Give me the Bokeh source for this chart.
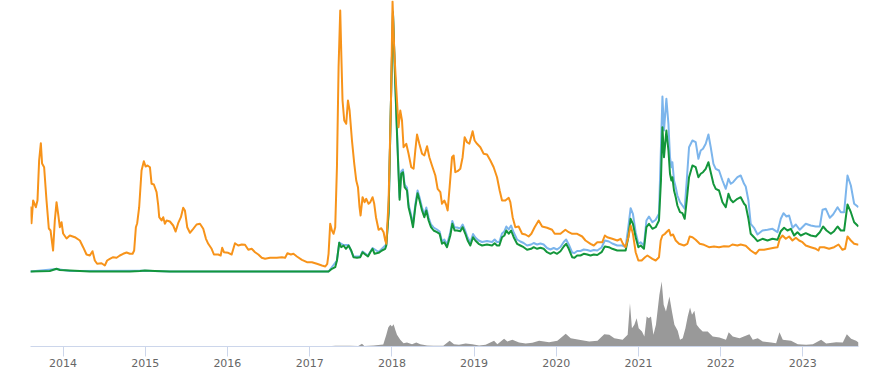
from datetime import datetime
from bokeh.plotting import figure
from bokeh.models import Range1d, FixedTicker, DatetimeTickFormatter, ColumnDataSource
from bokeh.embed import file_html
from bokeh.resources import INLINE

# ---- data (time as decimal years, values in arbitrary index units) ----
orange_t = [2013.603, 2013.615, 2013.635, 2013.668, 2013.688, 2013.708, 2013.729, 2013.744, 2013.769, 2013.798,
            2013.826, 2013.847, 2013.878, 2013.899, 2013.920, 2013.939, 2013.960, 2013.981, 2014.000, 2014.042,
            2014.082, 2014.143, 2014.204, 2014.244, 2014.285, 2014.325, 2014.358, 2014.386, 2014.414, 2014.468,
            2014.508, 2014.536, 2014.569, 2014.609, 2014.651, 2014.691, 2014.731, 2014.773, 2014.813, 2014.846,
            2014.865, 2014.886, 2014.902, 2014.926, 2014.955, 2014.983, 2015.004, 2015.028, 2015.057, 2015.077,
            2015.105, 2015.138, 2015.158, 2015.170, 2015.199, 2015.219, 2015.239, 2015.260, 2015.300, 2015.340,
            2015.370, 2015.401, 2015.434, 2015.462, 2015.483, 2015.511, 2015.544, 2015.584, 2015.625, 2015.666,
            2015.706, 2015.739, 2015.767, 2015.808, 2015.836, 2015.889, 2015.918, 2015.937, 2015.958, 2016.010,
            2016.052, 2016.092, 2016.132, 2016.174, 2016.214, 2016.254, 2016.295, 2016.336, 2016.376, 2016.417,
            2016.458, 2016.518, 2016.600, 2016.661, 2016.701, 2016.729, 2016.771, 2016.802, 2016.844, 2016.905,
            2016.966, 2017.026, 2017.087, 2017.148, 2017.189, 2017.213, 2017.229, 2017.249, 2017.270, 2017.290,
            2017.310, 2017.331, 2017.351, 2017.371, 2017.383, 2017.399, 2017.420, 2017.444, 2017.465, 2017.485,
            2017.514, 2017.542, 2017.566, 2017.587, 2017.606, 2017.619, 2017.643, 2017.667, 2017.688, 2017.716,
            2017.737, 2017.765, 2017.785, 2017.806, 2017.838, 2017.871, 2017.899, 2017.919, 2017.932, 2017.960,
            2017.989, 2018.008, 2018.029, 2018.050, 2018.081, 2018.102, 2018.123, 2018.142, 2018.175, 2018.203,
            2018.236, 2018.264, 2018.285, 2018.306, 2018.334, 2018.367, 2018.395, 2018.428, 2018.456, 2018.488,
            2018.529, 2018.557, 2018.590, 2018.610, 2018.638, 2018.659, 2018.679, 2018.703, 2018.732, 2018.752,
            2018.772, 2018.800, 2018.833, 2018.861, 2018.886, 2018.915, 2018.943, 2018.964, 2018.983, 2019.007,
            2019.037, 2019.077, 2019.117, 2019.158, 2019.199, 2019.239, 2019.280, 2019.312, 2019.341, 2019.381,
            2019.422, 2019.442, 2019.470, 2019.503, 2019.543, 2019.585, 2019.625, 2019.665, 2019.698, 2019.738,
            2019.787, 2019.829, 2019.889, 2019.950, 2019.982, 2020.052, 2020.112, 2020.153, 2020.194, 2020.255,
            2020.316, 2020.356, 2020.417, 2020.457, 2020.499, 2020.560, 2020.591, 2020.620, 2020.681, 2020.742,
            2020.783, 2020.811, 2020.843, 2020.876, 2020.904, 2020.932, 2020.965, 2020.998, 2021.038, 2021.079,
            2021.108, 2021.169, 2021.209, 2021.249, 2021.270, 2021.291, 2021.322, 2021.351, 2021.371, 2021.392,
            2021.420, 2021.453, 2021.493, 2021.554, 2021.595, 2021.623, 2021.656, 2021.696, 2021.745, 2021.797,
            2021.858, 2021.919, 2021.980, 2022.041, 2022.102, 2022.143, 2022.204, 2022.244, 2022.305, 2022.366,
            2022.427, 2022.467, 2022.528, 2022.589, 2022.650, 2022.692, 2022.720, 2022.753, 2022.793, 2022.833,
            2022.874, 2022.915, 2022.955, 2022.996, 2023.036, 2023.097, 2023.158, 2023.191, 2023.207, 2023.259,
            2023.320, 2023.381, 2023.435, 2023.483, 2023.515, 2023.544, 2023.585, 2023.625, 2023.678]
orange_v = [65, 48.3, 71, 64.3, 71, 111, 128.3, 108, 104.3, 71,
            43, 41, 21, 51, 69.3, 58, 44.3, 49.3, 38, 33,
            36, 34.3, 31, 24.3, 17, 16, 20.3, 11, 7.7, 8.3,
            6, 11, 12.7, 14.3, 13.7, 16, 17.7, 19, 17.7, 17.7,
            21, 44.3, 48.3, 64.3, 101, 110.3, 105, 106, 104.3, 87.7,
            87, 79.3, 66, 54.3, 51, 54.3, 47.7, 51, 50, 46,
            40, 48.3, 54.3, 63.7, 61, 44.3, 38.7, 42.7, 47, 47.7,
            42.7, 32.7, 27.7, 22.7, 17, 17, 16, 23.7, 19.3, 18.7,
            17, 28.3, 26, 27, 26.7, 21.7, 22.7, 19.3, 17, 13.7,
            12.7, 13.7, 13.7, 14.3, 13.7, 18.3, 17, 17.7, 15, 11.7,
            9.3, 9.3, 7.7, 6, 5, 7.7, 17.7, 47.7, 41, 37.7,
            44.3, 104.3, 204.3, 261, 221, 171, 151, 147.7, 171, 161,
            131, 107.7, 91, 84.3, 64.3, 56, 74.3, 69.3, 72.7, 67.7,
            69.3, 74.3, 67.7, 54.3, 41.7, 43.3, 39.3, 31, 27.7, 71,
            171, 270, 221, 187.7, 144.3, 161, 151, 124.3, 127.7, 117.7,
            104.3, 102.7, 121, 137, 127.7, 117.7, 116, 125.3, 114.3, 106,
            96, 82.7, 79.3, 67.7, 71, 67, 61, 84.3, 114.3, 116,
            99.3, 100.3, 102.7, 114.3, 134.3, 129.3, 127.7, 134.3, 140.3, 131,
            127.7, 124.3, 117.7, 117, 111, 104.3, 94.3, 81, 71, 71,
            73.7, 69.3, 54.3, 44.3, 45, 37.7, 37, 35, 37.7, 44.3,
            51, 45, 43.7, 41.7, 37.7, 37.7, 41.7, 39.3, 37.7, 37.7,
            35, 31, 27.7, 26, 29.3, 29.3, 36, 34.3, 32.7, 31,
            32.7, 27.7, 24.3, 34.3, 46, 37.7, 19.3, 11, 11, 14.3,
            16, 12.7, 11, 14.3, 31, 36, 37.7, 40.3, 41.7, 36,
            37, 31, 27.7, 26, 27.7, 35, 34.3, 31.7, 27.7, 26.7,
            24.3, 25, 24.3, 25.3, 25, 27, 26, 27, 25.7, 21,
            17.7, 21.7, 21.7, 22.7, 23.7, 24.3, 32.7, 36, 32.7, 35,
            31, 33.7, 31, 29.3, 26, 24.3, 22.7, 21, 24.3, 24.3,
            22.7, 24.3, 27, 21.7, 22.7, 35, 31, 27.7, 26.7]

green_t = [2013.601, 2013.838, 2013.920, 2013.960, 2014.082, 2014.325, 2014.813, 2014.935, 2014.996, 2015.117,
           2015.300, 2017.229, 2017.270, 2017.310, 2017.331, 2017.359, 2017.383, 2017.411, 2017.441, 2017.472,
           2017.505, 2017.533, 2017.575, 2017.615, 2017.643, 2017.676, 2017.709, 2017.737, 2017.765, 2017.789,
           2017.838, 2017.879, 2017.919, 2017.932, 2017.960, 2017.989, 2018.013, 2018.041, 2018.062, 2018.081,
           2018.094, 2018.114, 2018.135, 2018.155, 2018.184, 2018.203, 2018.233, 2018.257, 2018.285, 2018.313,
           2018.337, 2018.367, 2018.395, 2018.419, 2018.447, 2018.476, 2018.508, 2018.549, 2018.581, 2018.610,
           2018.638, 2018.671, 2018.711, 2018.736, 2018.764, 2018.793, 2018.833, 2018.861, 2018.894, 2018.922,
           2018.955, 2018.988, 2019.016, 2019.056, 2019.098, 2019.158, 2019.219, 2019.251, 2019.280, 2019.308,
           2019.341, 2019.369, 2019.394, 2019.422, 2019.451, 2019.483, 2019.524, 2019.564, 2019.604, 2019.646,
           2019.695, 2019.726, 2019.768, 2019.808, 2019.848, 2019.889, 2019.930, 2019.970, 2020.011, 2020.052,
           2020.092, 2020.121, 2020.153, 2020.194, 2020.222, 2020.255, 2020.295, 2020.335, 2020.377, 2020.417,
           2020.457, 2020.499, 2020.551, 2020.591, 2020.640, 2020.681, 2020.742, 2020.803, 2020.843, 2020.876,
           2020.904, 2020.932, 2020.965, 2020.998, 2021.026, 2021.066, 2021.096, 2021.127, 2021.169, 2021.209,
           2021.249, 2021.273, 2021.291, 2021.310, 2021.339, 2021.364, 2021.383, 2021.400, 2021.412, 2021.432,
           2021.453, 2021.473, 2021.505, 2021.534, 2021.562, 2021.587, 2021.615, 2021.656, 2021.696, 2021.729,
           2021.757, 2021.785, 2021.818, 2021.851, 2021.879, 2021.912, 2021.940, 2021.980, 2022.022, 2022.062,
           2022.095, 2022.123, 2022.151, 2022.204, 2022.244, 2022.285, 2022.305, 2022.338, 2022.366, 2022.406,
           2022.448, 2022.509, 2022.570, 2022.631, 2022.692, 2022.732, 2022.772, 2022.813, 2022.854, 2022.894,
           2022.935, 2022.975, 2023.036, 2023.097, 2023.158, 2023.207, 2023.247, 2023.289, 2023.341, 2023.381,
           2023.423, 2023.463, 2023.503, 2023.544, 2023.585, 2023.625, 2023.678]
green_v = [0, 0.5, 2.7, 1.5, 1, 0, 0, 0.5, 1, 0.5,
           0, 0, 2.7, 4.3, 11, 28.7, 24.3, 26, 22.7, 26,
           21, 14.3, 13.7, 14.3, 19.3, 17, 15, 19.3, 22.7, 17.7,
           18.7, 21, 22.7, 26, 58, 171, 259, 188, 138, 97.7,
           71.7, 97.7, 99.3, 84.3, 81, 64.3, 54.3, 44.3, 64.3, 78.3,
           71, 61, 54.3, 61, 51, 44.3, 41, 39.3, 37.7, 27.7,
           29.3, 24.3, 36, 47.7, 41, 41, 40.3, 44.3, 37.7, 31,
           26, 34.3, 31, 27.7, 26, 27, 26, 28.3, 26, 26,
           34.3, 36, 41, 37.7, 41, 34.3, 27.7, 26, 24.3, 21.7,
           22.7, 24.3, 22.7, 23.7, 22.7, 19.3, 17.7, 19.3, 17.7, 20.3,
           25, 27.7, 22.7, 14.3, 13.7, 16, 16, 17.7, 17, 16,
           17, 16.5, 19.3, 25, 24.3, 22.7, 21, 21, 21, 34.3,
           52.7, 47.7, 34.3, 24.3, 26, 22.7, 44.3, 47.7, 42.7, 44.3,
           51, 91, 144.3, 114.3, 141, 121, 97.7, 91, 94.3, 81,
           74.3, 66, 59.3, 58.3, 52.7, 71, 94.3, 106, 104.3, 94.3,
           97.7, 99.3, 102.7, 109.3, 99.3, 87.7, 82.7, 81, 69.3, 64.3,
           77.7, 71.7, 69.3, 72.7, 74.3, 67.7, 66, 52.7, 37.7, 34.3,
           30.3, 32.7, 31, 32.7, 31.7, 40.3, 43.7, 41, 42.7, 36,
           39.3, 36, 38.3, 36, 35, 39.3, 45, 41, 37.7, 40.3,
           45, 41, 41, 67, 59.3, 49.3, 45]

blue_t = [2013.601, 2013.920, 2014.082, 2014.996, 2015.300, 2017.229, 2017.331, 2017.359, 2017.411, 2017.472,
          2017.533, 2017.615, 2017.643, 2017.709, 2017.765, 2017.838, 2017.932, 2017.960, 2017.989, 2018.013,
          2018.041, 2018.062, 2018.081, 2018.094, 2018.114, 2018.135, 2018.155, 2018.184, 2018.203, 2018.233,
          2018.257, 2018.285, 2018.313, 2018.337, 2018.367, 2018.395, 2018.419, 2018.447, 2018.476, 2018.508,
          2018.549, 2018.581, 2018.610, 2018.638, 2018.671, 2018.711, 2018.736, 2018.764, 2018.793, 2018.833,
          2018.861, 2018.894, 2018.922, 2018.955, 2018.988, 2019.016, 2019.056, 2019.098, 2019.158, 2019.219,
          2019.251, 2019.280, 2019.308, 2019.341, 2019.369, 2019.394, 2019.422, 2019.451, 2019.483, 2019.524,
          2019.564, 2019.604, 2019.646, 2019.695, 2019.726, 2019.768, 2019.808, 2019.848, 2019.889, 2019.930,
          2019.970, 2020.011, 2020.052, 2020.092, 2020.121, 2020.153, 2020.194, 2020.222, 2020.255, 2020.295,
          2020.335, 2020.377, 2020.417, 2020.457, 2020.499, 2020.551, 2020.591, 2020.640, 2020.681, 2020.742,
          2020.803, 2020.843, 2020.876, 2020.904, 2020.932, 2020.965, 2020.998, 2021.026, 2021.066, 2021.096,
          2021.127, 2021.169, 2021.209, 2021.249, 2021.273, 2021.291, 2021.310, 2021.339, 2021.364, 2021.383,
          2021.400, 2021.412, 2021.432, 2021.453, 2021.473, 2021.505, 2021.534, 2021.562, 2021.587, 2021.615,
          2021.656, 2021.696, 2021.729, 2021.757, 2021.785, 2021.818, 2021.851, 2021.879, 2021.912, 2021.940,
          2021.980, 2022.022, 2022.062, 2022.095, 2022.123, 2022.151, 2022.204, 2022.244, 2022.285, 2022.305,
          2022.338, 2022.366, 2022.406, 2022.448, 2022.509, 2022.570, 2022.631, 2022.692, 2022.732, 2022.765,
          2022.801, 2022.833, 2022.874, 2022.915, 2022.963, 2023.036, 2023.097, 2023.158, 2023.207, 2023.240,
          2023.280, 2023.329, 2023.369, 2023.423, 2023.463, 2023.503, 2023.544, 2023.585, 2023.625, 2023.678]
blue_v = [0, 2.5, 0.5, 0.8, 0, 0, 11, 29, 26.5, 26.5,
          15, 15, 20, 16, 23.5, 19.5, 27, 59, 172, 260,
          190, 141, 100, 74, 100, 102, 87, 84, 67, 57,
          47, 67, 81, 74, 64, 57, 64, 54, 47, 44,
          42, 40, 30, 32, 27, 39, 50.5, 44, 44, 43,
          47, 40.5, 34, 29, 37.5, 34, 31, 29.5, 30.5, 29.5,
          32, 29.5, 29.5, 38, 40, 45, 42, 46, 39, 32,
          30, 28.5, 26, 27, 28.5, 27, 28, 27, 23.5, 22,
          23.5, 22, 24.5, 29.5, 32, 27, 19, 18.5, 20.5, 20.5,
          22, 21.5, 20.5, 21.5, 21, 24, 31, 30, 28, 26,
          26, 24.3, 44.3, 63.3, 57.7, 39.3, 27.7, 29.3, 26, 51,
          55, 49.3, 51.7, 57.7, 124.3, 175, 141, 172.7, 147.7, 114.3,
          104.3, 109.3, 91, 84.3, 76, 69.3, 66, 62.7, 91, 124.3,
          131, 129.3, 112.7, 121, 122.7, 127.7, 137, 124.3, 107.7, 102.7,
          101, 91, 82.7, 92.7, 87.7, 89.3, 94.3, 96, 87.7, 85,
          71, 47.7, 43.7, 37, 41, 41.7, 42.7, 39.3, 52.7, 58.3,
          55, 56, 43.7, 47, 41.7, 47.7, 46, 45, 45, 61.7,
          62.7, 53.7, 57, 64.3, 59.3, 59.3, 96, 86, 67.7, 64.3]

vol_t = [2013.601, 2017.189, 2017.310, 2017.493, 2017.591, 2017.636, 2017.664, 2017.777, 2017.895, 2017.932,
         2017.956, 2017.980, 2018.001, 2018.021, 2018.041, 2018.062, 2018.102, 2018.142, 2018.184, 2018.245,
         2018.297, 2018.346, 2018.428, 2018.508, 2018.626, 2018.703, 2018.756, 2018.817, 2018.898, 2018.979,
         2019.061, 2019.141, 2019.244, 2019.284, 2019.366, 2019.406, 2019.467, 2019.548, 2019.629, 2019.710,
         2019.792, 2019.914, 2020.015, 2020.116, 2020.177, 2020.279, 2020.401, 2020.502, 2020.584, 2020.645,
         2020.706, 2020.807, 2020.868, 2020.896, 2020.920, 2020.949, 2020.977, 2021.002, 2021.042, 2021.071,
         2021.099, 2021.124, 2021.152, 2021.181, 2021.212, 2021.254, 2021.282, 2021.306, 2021.334, 2021.376,
         2021.407, 2021.437, 2021.477, 2021.505, 2021.538, 2021.571, 2021.599, 2021.627, 2021.651, 2021.680,
         2021.708, 2021.741, 2021.781, 2021.842, 2021.903, 2021.985, 2022.065, 2022.098, 2022.147, 2022.229,
         2022.350, 2022.391, 2022.452, 2022.512, 2022.614, 2022.675, 2022.716, 2022.756, 2022.857, 2022.939,
         2023.040, 2023.122, 2023.223, 2023.284, 2023.406, 2023.487, 2023.536, 2023.588, 2023.649, 2023.678]
vol_v = [0, 0, 0.7, 0.7, 0.5, 2.7, 0.5, 1, 2, 11.7,
         19, 21.7, 20, 22.3, 16.7, 11.7, 6.7, 3.3, 4, 2.3,
         4, 2.3, 1, 0.7, 0.7, 5.7, 2.3, 1.7, 3, 2.3,
         1, 1.7, 5.7, 2.3, 7.7, 5, 6.7, 4, 3, 3.7,
         5.7, 4.3, 5.7, 12.7, 8.3, 6.7, 5, 5.7, 12.3, 11.7,
         8.3, 6.7, 11.7, 43.3, 18.3, 21.7, 28.3, 18.3, 15, 10,
         30, 28.3, 30, 11.7, 21.7, 51.7, 65, 41.7, 35, 50,
         35, 21.7, 15.7, 6.7, 8.3, 18.3, 30, 39, 31.7, 35.7,
         21.7, 18.3, 15, 15, 10, 9, 6.7, 14.3, 10, 8.3,
         12.3, 6.7, 8.3, 5, 4, 3.3, 14.3, 6.7, 5.7, 2.3,
         1.7, 2.3, 6.7, 3, 4.3, 4, 12.3, 7.7, 5.7, 4]

year_ticks = [2014, 2015, 2016, 2017, 2018, 2019, 2020, 2021, 2022, 2023]


def to_dt(y):
    yr = int(y)
    a = datetime(yr, 1, 1)
    b = datetime(yr + 1, 1, 1)
    return a + (b - a) * (y - yr)


def ms(d):
    return (d - datetime(1970, 1, 1)).total_seconds() * 1000.0


p = figure(width=884, height=376, x_axis_type="datetime", output_backend="svg",
           toolbar_location=None, y_axis_location=None,
           x_range=Range1d(to_dt(orange_t[0]), to_dt(orange_t[-1])),
           y_range=Range1d(-75, 271),
           min_border_left=30, min_border_right=26, min_border_top=0, min_border_bottom=30)
p.extra_y_ranges = {"vol": Range1d(0, 346)}
p.xgrid.visible = False
p.ygrid.visible = False
p.outline_line_color = None
p.background_fill_color = "white"
p.border_fill_color = "white"

vsrc = ColumnDataSource(dict(x=[to_dt(t) for t in vol_t], y=vol_v))
p.varea(x="x", y1=0, y2="y", source=vsrc, y_range_name="vol", fill_color="#999999", fill_alpha=1.0)

p.line([to_dt(t) for t in blue_t], blue_v, line_color="#7cb5ec", line_width=2, line_join="round")
p.line([to_dt(t) for t in green_t], green_v, line_color="#13963b", line_width=2, line_join="round")
p.line([to_dt(t) for t in orange_t], orange_v, line_color="#f7931a", line_width=2, line_join="round")

ax = p.xaxis[0]
ax.ticker = FixedTicker(ticks=[ms(datetime(y, 1, 1)) for y in year_ticks])
ax.formatter = DatetimeTickFormatter(years="%Y", months="%Y", days="%Y", hours="%Y",
                                     minutes="%Y", seconds="%Y", milliseconds="%Y",
                                     microseconds="%Y", minsec="%Y", hourmin="%Y")
ax.axis_line_color = "#ccd6eb"
ax.major_tick_line_color = "#ccd6eb"
ax.major_tick_out = 10
ax.major_tick_in = 0
ax.minor_tick_line_color = None
ax.major_label_text_color = "#666666"
ax.major_label_text_font = "DejaVu Sans"
ax.major_label_text_font_size = "11px"
ax.major_label_standoff = 2

open("out.html", "w").write(file_html(p, INLINE))
